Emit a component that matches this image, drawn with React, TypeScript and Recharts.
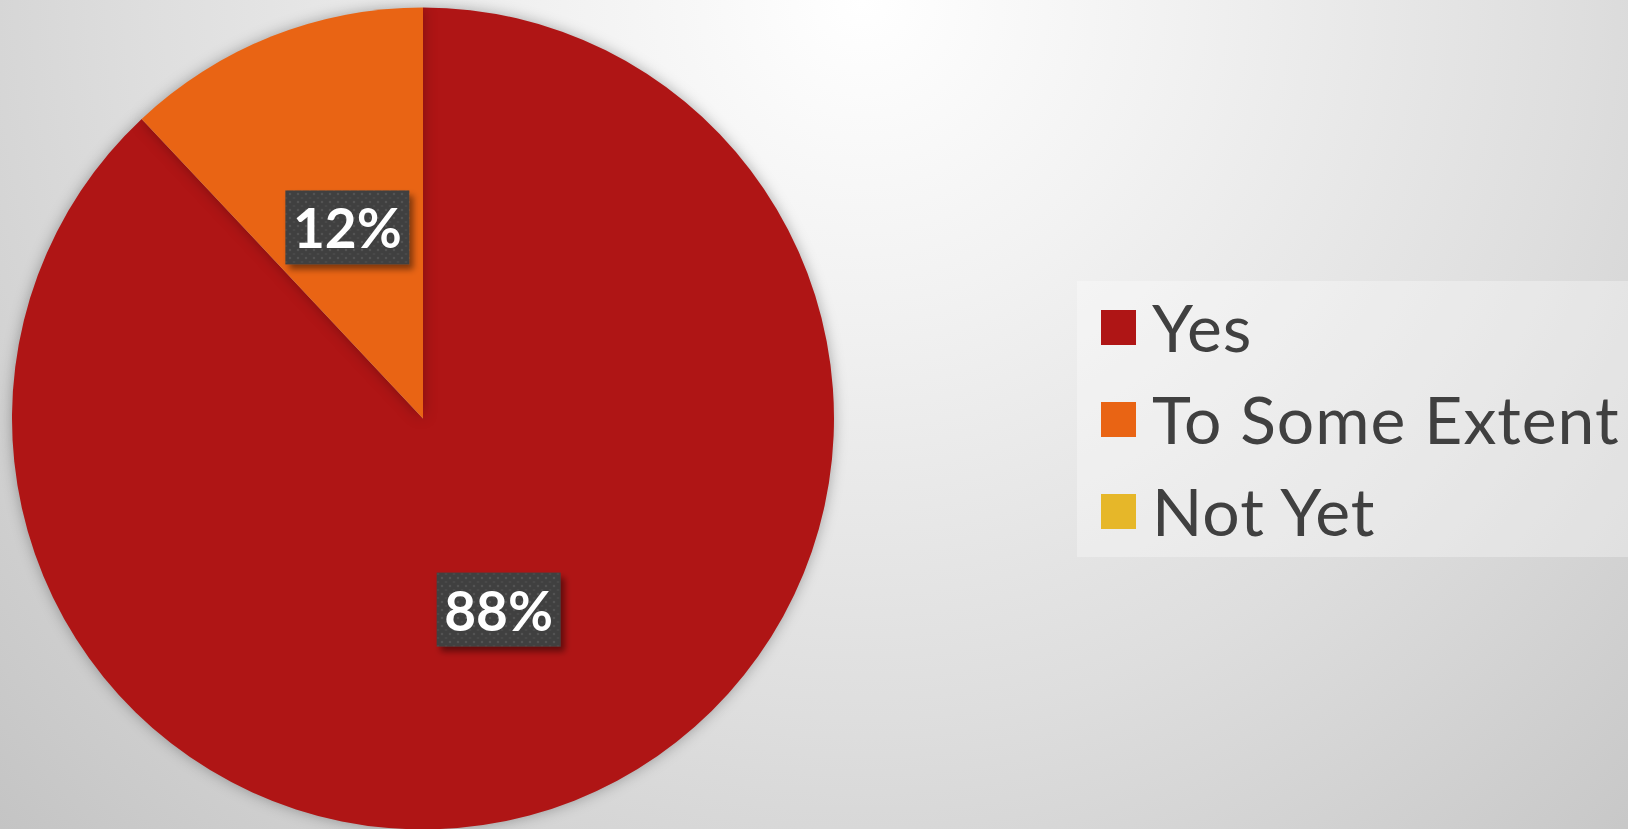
import { Cell, Legend, Pie, PieChart } from 'recharts';

const categories = ['Yes', 'To Some Extent', 'Not Yet'];
const shares = [88, 12, 0];
const colors = ['#AF1515', '#E96414', '#E6B729'];

const data = categories.map((name, i) => ({ name, value: shares[i] }));

const RAD = Math.PI / 180;

function SliceLabel(props: any) {
  const { cx, cy, midAngle, outerRadius, value, index } = props;
  if (!value) return null;
  const r = outerRadius * 0.5;
  const x = cx + r * Math.cos(-midAngle * RAD);
  const y = cy + r * Math.sin(-midAngle * RAD);
  const w = 124;
  const h = 74;
  const pid = `dots-${index}`;
  const fid = `boxShadow-${index}`;
  return (
    <g>
      <defs>
        <pattern id={pid} width="8" height="8" patternUnits="userSpaceOnUse">
          <rect width="8" height="8" fill="#404040" />
          <circle cx="2" cy="2" r="1.3" fill="#525252" />
          <circle cx="6" cy="6" r="1.3" fill="#4a4a4a" />
        </pattern>
        <filter id={fid} x="-20%" y="-20%" width="150%" height="160%">
          <feDropShadow dx="4" dy="5" stdDeviation="3" floodColor="#000" floodOpacity="0.45" />
        </filter>
      </defs>
      <rect x={x - w / 2} y={y - h / 2} width={w} height={h} fill={`url(#${pid})`} filter={`url(#${fid})`} />
      <text
        x={x}
        y={y + 21}
        textAnchor="middle"
        fill="#ffffff"
        fontFamily="Lato, 'Noto Sans', sans-serif"
        fontWeight={700}
        fontSize={55}
      >
        {`${value}%`}
      </text>
    </g>
  );
}

function LegendBox() {
  return (
    <div
      style={{
        width: 551,
        height: 276,
        background: 'rgba(255,255,255,0.32)',
        fontFamily: "Lato, 'Noto Sans', sans-serif",
        color: '#404040',
        fontSize: 66,
        letterSpacing: 1,
      }}
    >
      {categories.map((name, i) => (
        <div key={name} style={{ display: 'flex', alignItems: 'center', height: 92, paddingLeft: 24, boxSizing: 'border-box' }}>
          <span style={{ display: 'inline-block', width: 35, height: 35, background: colors[i], marginRight: 16, flex: 'none' }} />
          <span style={{ lineHeight: '92px', whiteSpace: 'nowrap' }}>{name}</span>
        </div>
      ))}
    </div>
  );
}

export default function App() {
  return (
    <div
      style={{
        position: 'fixed',
        left: 0,
        top: 0,
        width: 1628,
        height: 829,
        overflow: 'hidden',
        background: 'radial-gradient(circle farthest-corner at 53% 0%, #ffffff 0%, #f2f2f2 25%, #dedede 60%, #c4c4c4 100%)',
      }}
    >
      <style>{'.recharts-pie-sector { filter: drop-shadow(0 0 7px rgba(0,0,0,0.3)); }'}</style>
      <PieChart width={1628} height={829} margin={{ top: 0, right: 0, bottom: 0, left: 0 }}>
        <Pie
          data={data}
          dataKey="value"
          nameKey="name"
          cx={423}
          cy={418.5}
          outerRadius={411}
          startAngle={90}
          endAngle={-270}
          stroke="none"
          labelLine={false}
          label={SliceLabel}
          isAnimationActive={false}
        >
          {data.map((d, i) => (
            <Cell key={d.name} fill={colors[i]} />
          ))}
        </Pie>
        <Legend
          content={() => <LegendBox />}
          wrapperStyle={{ position: 'absolute', left: 1077, top: 281, width: 551, height: 276 }}
        />
      </PieChart>
    </div>
  );
}
